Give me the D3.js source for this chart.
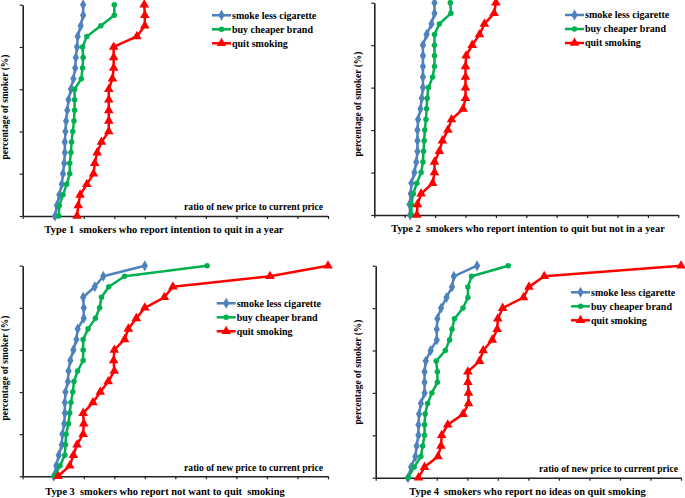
<!DOCTYPE html>
<html><head><meta charset="utf-8">
<script src="https://cdn.jsdelivr.net/npm/d3@7"></script>
<style>
html,body{margin:0;padding:0;background:#fff;}
text{font-family:"Liberation Serif","Times New Roman",serif;font-weight:bold;fill:#000;}
</style></head>
<body><svg id="c" width="685" height="498"></svg>
<script>
// ---- data ----
const yLevels = [0,5,10,15,20,25,30,35,40,45,50,55,60,65,70,75,80,85,90,95,100];
const xTicks = [1,1.5,2,2.5,3,3.5,4,4.5,5,5.5,6];
const yTicks = [0,20,40,60,80,100];
const seriesNames = ["smoke less cigarette","buy cheaper brand","quit smoking"];

const type1Less   = [1.53,1.56,1.60,1.64,1.66,1.68,1.69,1.69,1.70,1.71,1.73,1.75,1.79,1.83,1.86,1.87,1.89,1.90,1.95,1.99,1.99];
const type1Cheap  = [1.59,1.60,1.66,1.72,1.77,1.77,1.79,1.80,1.82,1.84,1.85,1.85,1.85,1.96,1.98,1.99,1.98,2.05,2.28,2.50,2.50];
const type1Quit   = [1.89,1.91,1.94,2.05,2.16,2.18,2.22,2.29,2.41,2.41,2.41,2.41,2.41,2.47,2.49,2.49,2.49,2.87,3.00,3.00,2.99];

const type2Less   = [1.59,1.58,1.60,1.61,1.66,1.69,1.71,1.71,1.71,1.72,1.76,1.78,1.80,1.80,1.80,1.80,1.80,1.86,1.94,1.99,1.99];
const type2Cheap  = [1.61,1.61,1.64,1.70,1.77,1.80,1.81,1.82,1.83,1.85,1.86,1.87,1.89,1.96,1.99,1.99,1.99,1.99,2.07,2.26,2.25];
const type2Quit   = [1.70,1.71,1.77,1.96,1.99,1.99,2.07,2.12,2.21,2.27,2.46,2.50,2.50,2.50,2.50,2.51,2.61,2.73,2.81,2.97,3.00];

const type3Less   = [1.51,1.55,1.59,1.64,1.65,1.68,1.69,1.69,1.70,1.74,1.75,1.78,1.83,1.88,1.90,2.00,2.00,1.99,2.18,2.32,3.00];
const type3Cheap  = [1.52,1.61,1.69,1.70,1.71,1.75,1.77,1.79,1.82,1.84,1.90,1.99,1.99,1.99,2.07,2.19,2.26,2.29,2.41,2.67,4.02];
const type3Quit   = [1.58,1.77,1.83,1.89,1.99,2.00,1.99,2.15,2.27,2.40,2.50,2.49,2.50,2.67,2.73,2.86,3.00,3.32,3.46,5.05,6.00];

const type4Less   = [1.53,1.58,1.65,1.67,1.70,1.70,1.71,1.74,1.80,1.80,1.80,1.82,1.90,2.00,2.00,2.01,2.07,2.16,2.25,2.28,2.66];
const type4Cheap  = [1.53,1.63,1.74,1.77,1.80,1.80,1.81,1.85,1.92,2.01,2.01,1.99,2.14,2.21,2.25,2.29,2.43,2.51,2.51,2.57,3.17];
const type4Quit   = [1.70,1.80,2.02,2.07,2.08,2.18,2.43,2.52,2.52,2.51,2.51,2.70,2.76,2.91,2.99,3.00,3.08,3.42,3.51,3.76,6.00];

const titles = [
  "Type 1  smokers who report intention to quit in a year",
  "Type 2  smokers who report intention to quit but not in a year",
  "Type 3  smokers who report not want to quit  smoking",
  "Type 4  smokers who report no ideas on quit smoking"
];
const yLabel = "percentage of smoker (%)";
const xLabel = "ratio of new price to current price";

// ---- layout / styles ----
const colors = ["#4F81BD","#00B050","#FF0000"];
const symbols = [d3.symbolDiamond, d3.symbolCircle, d3.symbolTriangle];
const symSizes = [34, 24, 40];

const panels = [
  {series:[type1Less,type1Cheap,type1Quit], title:titles[0], l:22.7, r:328, t:4.7, b:216,
   legX:212, legY:15.3, xlab:true, xlabX:323, xlabY:210, titleX:164, titleY:233, ylabX:8, ylabY:107},
  {series:[type2Less,type2Cheap,type2Quit], title:titles[1], l:374.3, r:678.3, t:2.7, b:215,
   legX:565, legY:15, xlab:false, titleX:528, titleY:232, ylabX:361, ylabY:104},
  {series:[type3Less,type3Cheap,type3Quit], title:titles[2], l:22.7, r:328, t:265.7, b:476.3,
   legX:216.7, legY:303.3, xlab:true, xlabX:323, xlabY:471, titleX:165, titleY:495, ylabX:8, ylabY:368},
  {series:[type4Less,type4Cheap,type4Quit], title:titles[3], l:375.7, r:681, t:265.7, b:477.7,
   legX:571, legY:292.3, xlab:true, xlabX:678, xlabY:471.5, titleX:527.5, titleY:495, ylabX:361, ylabY:372}
];

const svg = d3.select("#c");

panels.forEach(p => {
  const x = d3.scaleLinear().domain([1,6]).range([p.l, p.r]);
  const y = d3.scaleLinear().domain([0,100]).range([p.b, p.t]);
  const g = svg.append("g");

  const xa = g.append("g").attr("transform",`translate(0,${p.b})`)
    .call(d3.axisBottom(x).tickValues(xTicks).tickFormat("").tickSizeInner(3).tickSizeOuter(0));
  const ya = g.append("g").attr("transform",`translate(${p.l},0)`)
    .call(d3.axisLeft(y).tickValues(yTicks).tickFormat("").tickSizeInner(3).tickSizeOuter(0));
  [xa,ya].forEach(a=>{
    a.select(".domain").attr("stroke","#222").attr("stroke-width",1.6);
    a.selectAll(".tick line").attr("stroke","#222").attr("stroke-width",1.2);
  });

  const line = d3.line().x(d=>x(d[0])).y(d=>y(d[1]));
  p.series.forEach((vals,i)=>{
    const pts = vals.map((v,k)=>[v, yLevels[k]]);
    g.append("path").datum(pts).attr("d",line).attr("fill","none")
      .attr("stroke",colors[i]).attr("stroke-width",2.5).attr("stroke-linejoin","round");
    g.selectAll(null).data(pts).enter().append("path")
      .attr("d", d3.symbol().type(symbols[i]).size(symSizes[i]))
      .attr("transform", d=>`translate(${x(d[0])},${y(d[1])})`)
      .attr("fill",colors[i]);
  });

  // legend
  seriesNames.forEach((n,i)=>{
    const ly = p.legY + i*14;
    g.append("line").attr("x1",p.legX).attr("x2",p.legX+19).attr("y1",ly).attr("y2",ly)
      .attr("stroke",colors[i]).attr("stroke-width",2.5);
    g.append("path").attr("d", d3.symbol().type(symbols[i]).size(symSizes[i]))
      .attr("transform",`translate(${p.legX+9.5},${ly})`).attr("fill",colors[i]);
    g.append("text").attr("x",p.legX+20).attr("y",ly+3.4).attr("font-size",10).text(n);
  });

  if (p.xlab) {
    g.append("text").attr("x",p.xlabX).attr("y",p.xlabY).attr("text-anchor","end")
      .attr("font-size",9.6).text(xLabel);
  }
  g.append("text").attr("x",p.titleX).attr("y",p.titleY).attr("text-anchor","middle")
    .attr("font-size",10.4).attr("xml:space","preserve").style("white-space","pre").text(p.title);
  g.append("text").attr("transform",`translate(${p.ylabX},${p.ylabY}) rotate(-90)`)
    .attr("text-anchor","middle").attr("font-size",9.5).text(yLabel);
});
</script></body></html>
